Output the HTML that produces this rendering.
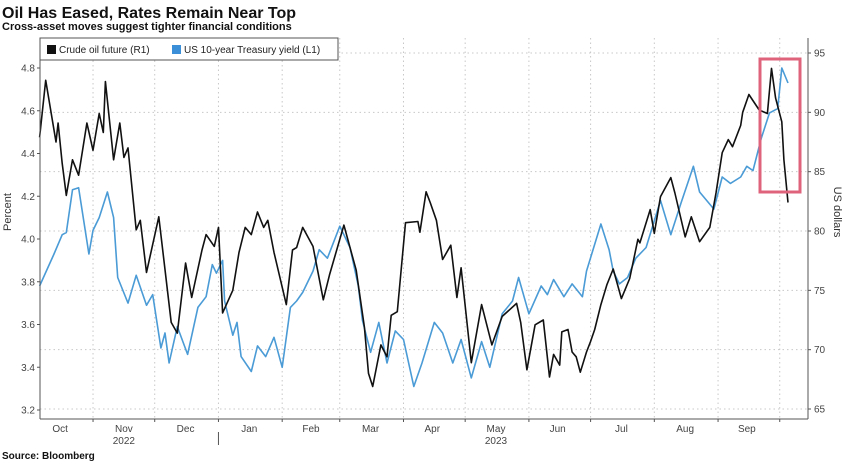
<!DOCTYPE html>
<html><head><meta charset="utf-8"><style>
body{margin:0;background:#fff;width:848px;height:464px;overflow:hidden;font-family:"Liberation Sans",sans-serif}
svg{display:block}
</style></head><body>
<svg id="chart" width="848" height="464">
<text x="2" y="18" font-size="16" font-weight="bold" fill="#111">Oil Has Eased, Rates Remain Near Top</text>
<text x="2" y="30" font-size="11" font-weight="bold" fill="#111">Cross-asset moves suggest tighter financial conditions</text>
<g id="grid"></g>
<g id="series"></g>
<g id="axes"></g>
<rect x="760" y="59" width="40" height="133" fill="none" stroke="#e0637c" stroke-width="3"/>
<g>
<rect x="40" y="38" width="298" height="22" fill="#fff" stroke="#555" stroke-width="1"/>
<rect x="47" y="45" width="9" height="9" fill="#111"/>
<text x="59" y="53" font-size="10" fill="#222">Crude oil future (R1)</text>
<rect x="172" y="45" width="9" height="9" fill="#3a8fd8"/>
<text x="184" y="53" font-size="10" fill="#222">US 10-year Treasury yield (L1)</text>
</g>
<text transform="translate(11,212) rotate(-90)" text-anchor="middle" font-size="11" fill="#333">Percent</text>
<text transform="translate(834,212) rotate(90)" text-anchor="middle" font-size="11" fill="#333">US dollars</text>
<text x="2" y="459" font-size="10" font-weight="bold" fill="#111">Source: Bloomberg</text>
</svg>
<script>
// days since 2022-10-01
const oilDays=[5,8,13,14,16,18,21,24,28,31,34,36,37,41,44,46,48,52,54,57,63,69,72,76,79,84,86,90,92,94,99,102,105,108,111,114,116,119,125,128,130,133,138,143,146,153,159,163,165,167,171,174,176,179,183,189,190,193,195,198,201,205,208,210,215,220,225,230,237,239,242,246,250,253,255,258,259,262,264,266,268,271,273,275,278,281,284,288,292,296,297,302,304,307,312,314,319,322,326,331,334,337,340,342,346,347,350,355,359,361,363,366,367,369];
const oilValues=[87.9,92.7,87.5,89.1,85.7,83.0,86.0,84.7,89.1,86.8,89.9,88.3,92.6,86.0,89.1,86.2,87.0,80.1,80.9,76.5,81.2,72.3,71.4,77.3,74.4,78.4,79.7,78.7,80.3,73.1,75.0,78.2,80.3,79.7,81.6,80.3,80.9,78.2,73.8,78.4,78.6,80.3,78.7,74.2,76.3,80.5,76.7,71.9,68.0,66.9,70.4,69.4,72.9,73.2,80.7,80.8,79.9,83.3,82.4,80.9,77.6,78.8,74.4,76.9,68.9,73.8,70.4,72.8,73.9,72.3,68.3,72.1,72.5,67.7,69.6,68.7,71.5,71.7,69.8,69.4,68.1,69.8,70.7,71.7,73.8,75.5,76.8,74.3,76.0,79.3,79.0,81.8,79.8,82.9,84.5,83.2,79.5,81.2,79.1,80.3,83.2,86.6,87.7,87.1,88.9,90.0,91.5,90.2,89.9,93.7,91.2,89.2,86.0,82.4];
const yieldDays=[5,12,16,18,21,24,29,31,34,38,41,43,48,52,57,60,64,66,68,72,77,82,86,89,91,94,95,99,101,103,108,111,115,119,123,127,130,133,138,141,145,151,156,160,162,166,170,174,178,182,187,191,197,201,206,210,215,220,224,230,235,238,243,249,252,255,260,264,269,271,278,282,284,287,291,295,300,307,312,317,323,326,333,337,341,346,349,352,356,360,364,366,369];
const yieldValues=[3.78,3.93,4.02,4.03,4.23,4.24,3.93,4.04,4.10,4.22,4.10,3.82,3.70,3.83,3.69,3.74,3.49,3.56,3.42,3.59,3.46,3.68,3.73,3.88,3.84,3.90,3.71,3.55,3.61,3.45,3.38,3.50,3.45,3.54,3.40,3.68,3.71,3.75,3.85,3.95,3.91,4.06,3.96,3.78,3.62,3.47,3.61,3.42,3.57,3.53,3.31,3.42,3.61,3.56,3.42,3.53,3.35,3.52,3.40,3.65,3.71,3.82,3.65,3.78,3.74,3.81,3.73,3.79,3.73,3.85,4.07,3.95,3.85,3.79,3.82,3.91,3.96,4.18,4.02,4.17,4.34,4.22,4.14,4.29,4.26,4.29,4.34,4.32,4.47,4.59,4.61,4.80,4.73];
const leftTicks=[3.2,3.4,3.6,3.8,4.0,4.2,4.4,4.6,4.8];
const rightTicks=[65,70,75,80,85,90,95];
const monthStarts=[31,61,92,123,151,182,212,243,273,304,335,365];
const monthLabels=["Oct","Nov","Dec","Jan","Feb","Mar","Apr","May","Jun","Jul","Aug","Sep"];
const monthLabelDays=[15,46,76,107,137,166,196,227,257,288,319,349];
const yearLabels=["2022","2023"];
const yearLabelDays=[46,227];

const X0=40,X1=808,Yb=419;
const xs=d=>29.3+d*2.056;
const yl=v=>68+(4.8-v)*213.75;
const yr=v=>53+(95-v)*11.867;
const NS="http://www.w3.org/2000/svg";
function mk(tag,parent){const e=document.createElementNS(NS,tag);document.getElementById(parent).appendChild(e);return e;}

rightTicks.forEach(v=>{
  const l=mk('line','grid');
  
  
  l.setAttribute('x1',X0);l.setAttribute('x2',X1);l.setAttribute('y1',yr(v));l.setAttribute('y2',yr(v));
  l.setAttribute('stroke','#c8c8c8');l.setAttribute('stroke-dasharray','1.5,3');
});
monthStarts.forEach(d=>{
  const l=mk('line','grid');
  
  
  l.setAttribute('x1',xs(d));l.setAttribute('x2',xs(d));l.setAttribute('y1',38);l.setAttribute('y2',Yb);
  l.setAttribute('stroke','#c8c8c8');l.setAttribute('stroke-dasharray','1.5,3');
});

function line(days,vals,yf,color,name){
  const p=mk('polyline','series');
  
  
  p.setAttribute('points',days.map((d,i)=>xs(d).toFixed(1)+','+yf(vals[i]).toFixed(1)).join(' '));
  p.setAttribute('fill','none');p.setAttribute('stroke',color);p.setAttribute('stroke-width','1.6');p.setAttribute('stroke-linejoin','round');
}
line(yieldDays,yieldValues,yl,'#4a9bd6','yield-line');
line(oilDays,oilValues,yr,'#111','oil-line');

function ln(x1,y1,x2,y2,name){const l=mk('line','axes');
  
  
  l.setAttribute('x1',x1);l.setAttribute('y1',y1);l.setAttribute('x2',x2);l.setAttribute('y2',y2);l.setAttribute('stroke','#555');}
function tx(x,y,s,anchor,name){const t=mk('text','axes');
  
  
  t.setAttribute('x',x);t.setAttribute('y',y);t.setAttribute('text-anchor',anchor);t.setAttribute('font-size','10');t.setAttribute('fill','#444');t.textContent=s;}
ln(X0,38,X0,Yb,'left-axis');ln(X1,38,X1,Yb,'right-axis');ln(X0,Yb,X1,Yb,'x-axis');
leftTicks.forEach(v=>{ln(X0-3,yl(v),X0,yl(v),'left-tick');tx(X0-5,yl(v)+3.5,v.toFixed(1),'end','left-tick-label');});
rightTicks.forEach(v=>{ln(X1,yr(v),X1+3,yr(v),'right-tick');tx(X1+6,yr(v)+3.5,String(v),'start','right-tick-label');});
monthStarts.forEach(d=>ln(xs(d),Yb,xs(d),Yb+3,'x-tick'));
monthLabels.forEach((m,i)=>tx(xs(monthLabelDays[i]),432,m,'middle','month-label'));
yearLabels.forEach((y,i)=>tx(xs(yearLabelDays[i]),444,y,'middle','year-label'));
ln(xs(92),432,xs(92),445,'year-separator');
</script>
</body></html>
